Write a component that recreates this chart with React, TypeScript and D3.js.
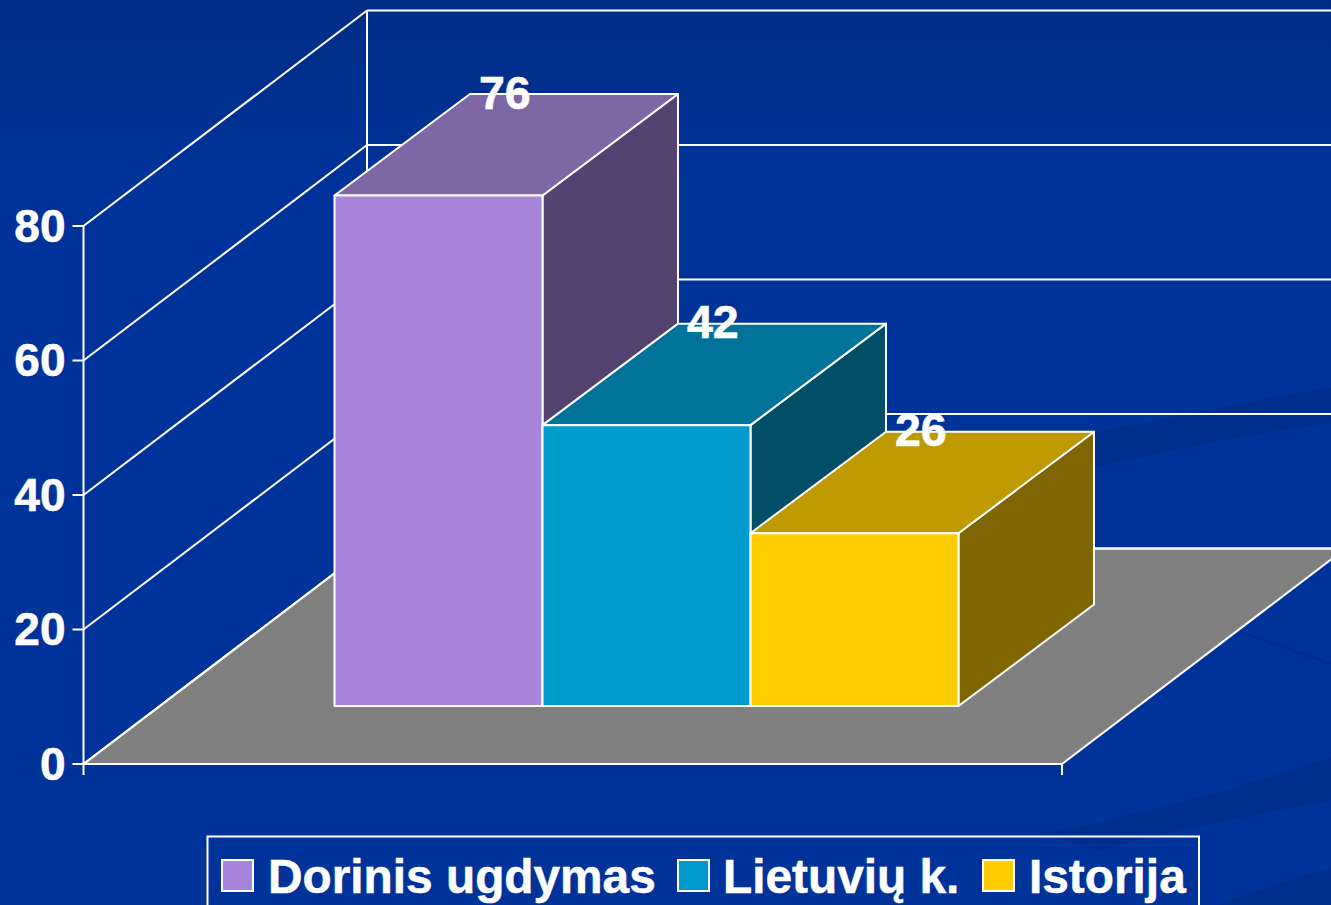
import React from "react";
import * as d3 from "d3";

const categories = ["Dorinis ugdymas", "Lietuvių k.", "Istorija"];
const values = [76, 42, 26];
const frontColors = ["#a885dd", "#009bcd", "#ffcc00"];
const topColors = ["#7f66a5", "#00739b", "#bf9900"];
const sideColors = ["#544370", "#004f66", "#806600"];
const yTicks = [0, 20, 40, 60, 80];
const legendSwatchX = [222, 678, 983];
const legendTextX = [268, 723, 1029];

const W = 1331, H = 905;
const FONT = "'Liberation Sans', Arial, sans-serif";
const WHITE = "#ffffff";

const y = d3.scaleLinear().domain([0, 80]).range([764, 226]);
const barTop = d3.scaleLinear().domain([0, 76]).range([708.8, 195.5]);
const wallDx = 283.5, wallDy = -215.5;
const floorRight = 1062;
const axisX = 83.5;
const band = d3.scaleBand<string>().domain(categories).range([334.5, 958.5]).padding(0);
const barBase = 706;
const depthX = 135.5, depthY = -101.5;

const poly = (pts: [number, number][]) => d3.line()(pts)! + "Z";

export default function App() {
  const y0 = y(0);
  return (
    <svg width={W} height={H} viewBox={`0 0 ${W} ${H}`}
      style={{ position: "fixed", left: 0, top: 0, display: "block" }} fontFamily={FONT}>
      <defs>
        <linearGradient id="bg" x1="0" y1="0" x2="0" y2="1">
          <stop offset="0" stopColor="#002c85" />
          <stop offset="0.2" stopColor="#003399" />
          <stop offset="1" stopColor="#003399" />
        </linearGradient>
      </defs>
      <rect width={W} height={H} fill="url(#bg)" />
      {/* background swooshes */}
      <g fill="#002e8c">
        <path d="M1040,472 L1097,432 C1170,418 1250,400 1331,388 L1331,423 C1250,433 1170,450 1097,467Z" />
        <path d="M1040,834 C1120,820 1220,795 1331,757 L1331,800 C1250,815 1170,832 1100,850Z" />
        <path d="M1217,905 C1260,890 1295,878 1331,868 L1331,905Z" />
      </g>
      <path d="M1240,632 L1331,664" stroke="#002e8c" strokeWidth={2} fill="none" />

      {/* floor */}
      <path d={poly([[axisX, y0], [floorRight, y0], [floorRight + wallDx, y0 + wallDy], [axisX + wallDx, y0 + wallDy]])}
        fill="#808080" stroke={WHITE} strokeWidth={2} />

      {/* walls and gridlines */}
      <g stroke={WHITE} strokeWidth={2} fill="none">
        {yTicks.map((t) => (
          <g key={t}>
            <line x1={axisX - 11} x2={axisX} y1={y(t)} y2={y(t)} />
            <line x1={axisX} y1={y(t)} x2={axisX + wallDx} y2={y(t) + wallDy} />
            <line x1={axisX + wallDx} y1={y(t) + wallDy} x2={W} y2={y(t) + wallDy} />
          </g>
        ))}
        <line x1={axisX} x2={axisX} y1={y(80)} y2={y0 + 11} />
        <line x1={axisX + wallDx} x2={axisX + wallDx} y1={y(80) + wallDy} y2={y0 + wallDy} />
        <line x1={floorRight} x2={floorRight} y1={y0} y2={y0 + 11} />
      </g>

      {/* bars */}
      {categories.map((c, i) => {
        const x0 = band(c)!;
        const x1 = x0 + band.bandwidth();
        const top = barTop(values[i]);
        return (
          <g key={c} stroke={WHITE} strokeWidth={2} strokeLinejoin="round">
            <path d={poly([[x1, top], [x1 + depthX, top + depthY], [x1 + depthX, barBase + depthY], [x1, barBase]])} fill={sideColors[i]} />
            <path d={poly([[x0, top], [x0 + depthX, top + depthY], [x1 + depthX, top + depthY], [x1, top]])} fill={topColors[i]} />
            <rect x={x0} y={top} width={x1 - x0} height={barBase - top} fill={frontColors[i]} />
          </g>
        );
      })}

      {/* data labels */}
      {categories.map((c, i) => (
        <text key={c} x={band(c)! + band.bandwidth() / 2 + depthX / 2 - 1.5} y={barTop(values[i]) - 87} textAnchor="middle"
          fontSize={46.5} fontWeight="bold" fill={WHITE} stroke={WHITE} strokeWidth={0.6}>{values[i]}</text>
      ))}

      {/* y tick labels */}
      {yTicks.map((t) => (
        <text key={t} x={65.5} y={y(t) + 15.5} textAnchor="end" fontSize={46} fontWeight="bold"
          fill={WHITE} stroke={WHITE} strokeWidth={0.6}>{t}</text>
      ))}

      {/* legend */}
      <rect x={207.5} y={836.5} width={991.5} height={100} fill="none" stroke={WHITE} strokeWidth={2} />
      {categories.map((c, i) => (
        <g key={c}>
          <rect x={legendSwatchX[i]} y={860} width={31} height={31} fill={frontColors[i]} stroke={WHITE} strokeWidth={2} />
          <text x={legendTextX[i]} y={893} fontSize={47.8} fontWeight="bold" fill={WHITE} stroke={WHITE} strokeWidth={0.5}>{c}</text>
        </g>
      ))}
    </svg>
  );
}
